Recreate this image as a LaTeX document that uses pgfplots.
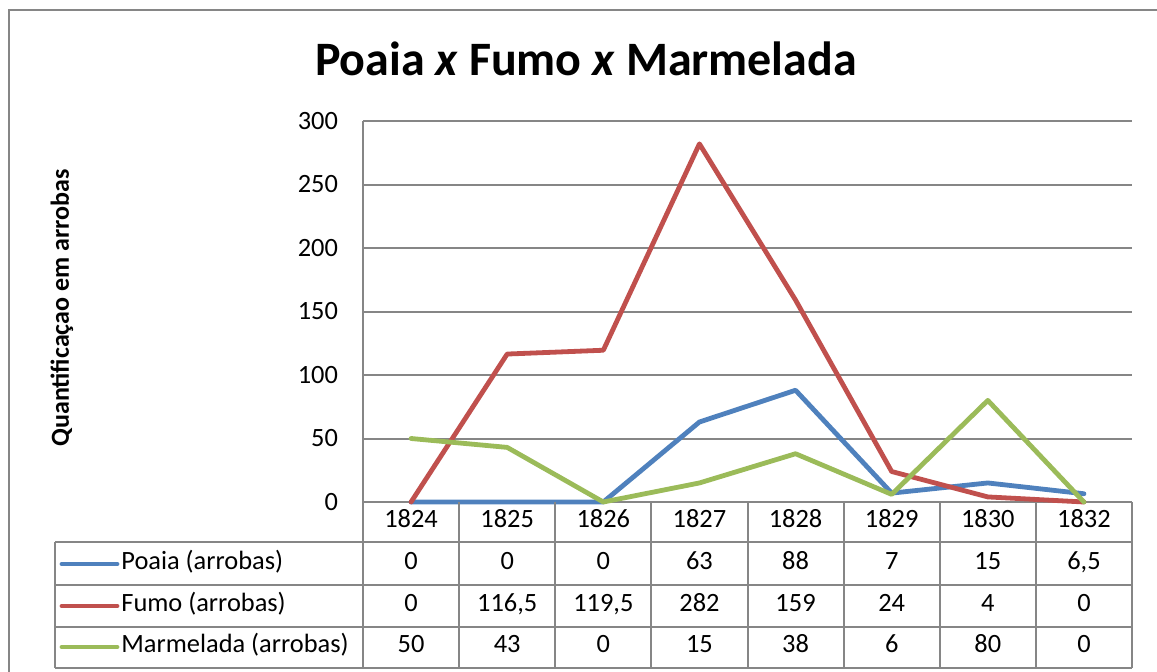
\documentclass[border=0pt]{standalone}
\usepackage{pgfplots}
\pgfplotsset{compat=1.18}
\usepackage{fontspec}
\setmainfont{Carlito}
\definecolor{poaia}{HTML}{4F81BD}
\definecolor{fumo}{HTML}{C0504D}
\definecolor{marm}{HTML}{9BBB59}
\definecolor{gridc}{HTML}{868686}
\begin{document}
\begin{tikzpicture}[x=0.5pt,y=0.5pt]
\useasboundingbox (0,0) rectangle (1157,671);
\draw[gridc, line width=1pt] (9,661) rectangle (1180,-30);
\node[font=\bfseries\fontsize{24}{28}\selectfont, anchor=base] at (586,596) {Poaia \textit{x} Fumo \textit{x} Marmelada};
\node[font=\bfseries\fontsize{13}{15}\selectfont, rotate=90] at (62,363) {Quantificaçao em arrobas};
\begin{axis}[at={(181.5pt,84.5pt)}, anchor=south west, scale only axis,
  width=384.5pt, height=190.5pt,
  xmin=-0.5, xmax=7.5, ymin=0, ymax=300,
  ytick={0,50,...,300}, xtick=\empty,
  axis lines*=left,
  axis line style={gridc, line width=1pt},
  ymajorgrids, grid style={gridc, line width=1pt},
  major tick length=0pt,
  tick label style={font=\fontsize{13.2}{15}\selectfont},
  yticklabel style={xshift=-9pt},
  /pgf/number format/assume math mode=true,
  clip=false]
\addplot[poaia, line width=2.4pt, line join=round, line cap=round] coordinates {(0,0) (1,0) (2,0) (3,63) (4,88) (5,7) (6,15) (7,6.5)};
\addplot[fumo, line width=2.4pt, line join=round, line cap=round] coordinates {(0,0) (1,116.5) (2,119.5) (3,282) (4,159) (5,24) (6,4) (7,0)};
\addplot[marm, line width=2.4pt, line join=round, line cap=round] coordinates {(0,50) (1,43) (2,0) (3,15) (4,38) (5,6) (6,80) (7,0)};
\end{axis}
% data table grid
\begin{scope}[gridc, line width=1pt]
\foreach \i in {0,...,8} {\draw (363+96.125*\i,169) -- (363+96.125*\i,3);}
\draw (55,129) -- (55,3);
\foreach \yy in {129,86,44,3} {\draw (55,\yy) -- (1132,\yy);}
\end{scope}
\begin{scope}[font=\fontsize{13.2}{15}\selectfont, every node/.style={text height=1.45ex, text depth=0.35ex}]
\foreach \t [count=\i from 0] in {1824,1825,1826,1827,1828,1829,1830,1832}
  {\node at (363+96.125*\i+48.06,149) {\t};}
\foreach \t [count=\i from 0] in {0,0,0,63,88,7,15,{6,5}}
  {\node at (363+96.125*\i+48.06,107) {\t};}
\foreach \t [count=\i from 0] in {0,{116,5},{119,5},282,159,24,4,0}
  {\node at (363+96.125*\i+48.06,65) {\t};}
\foreach \t [count=\i from 0] in {50,43,0,15,38,6,80,0}
  {\node at (363+96.125*\i+48.06,24) {\t};}
\draw[poaia, line width=2.4pt, line cap=round] (62,107) -- (117,107);
\draw[fumo, line width=2.4pt, line cap=round] (62,65) -- (117,65);
\draw[marm, line width=2.4pt, line cap=round] (62,24) -- (117,24);
\node[anchor=west, inner sep=0pt] at (121,107) {Poaia (arrobas)};
\node[anchor=west, inner sep=0pt] at (121,65) {Fumo (arrobas)};
\node[anchor=west, inner sep=0pt] at (121,24) {Marmelada (arrobas)};
\end{scope}
\end{tikzpicture}
\end{document}
